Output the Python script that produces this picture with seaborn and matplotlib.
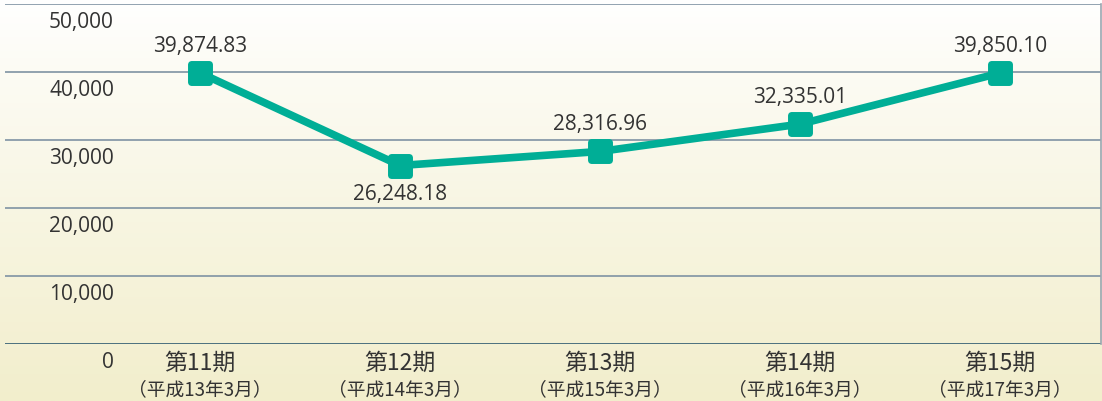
import numpy as np
import pandas as pd
import matplotlib
matplotlib.use("Agg")
import matplotlib.pyplot as plt
import matplotlib.transforms as mtransforms
from matplotlib.markers import MarkerStyle
import seaborn as sns

# data
periods = ["第11期", "第12期", "第13期", "第14期", "第15期"]
dates = ["（平成13年3月）", "（平成14年3月）", "（平成15年3月）", "（平成16年3月）", "（平成17年3月）"]
values = [39874.83, 26248.18, 28316.96, 32335.01, 39850.10]
label_below = [False, True, False, False, False]
yticks = [0, 10000, 20000, 30000, 40000, 50000]

sns.set_theme(style="white")
plt.rcParams['font.family'] = ['Noto Sans CJK JP', 'DejaVu Sans']
num_font = ['Open Sans', 'DejaVu Sans']

line_color = "#00ae96"
text_color = "#333333"

fig = plt.figure(figsize=(11.02, 4.02), dpi=100)

# background gradient over the whole figure
bg = fig.add_axes([0, 0, 1, 1], zorder=0)
grad = np.linspace(0, 1, 256).reshape(-1, 1)
top = np.array([1.0, 1.0, 1.0])
bot = np.array([0xf2, 0xee, 0xcc]) / 255
img = top + (bot - top) * grad[..., None] ** 0.9
bg.imshow(img, aspect="auto", extent=[0, 1, 0, 1], origin="upper")
bg.set_axis_off()

ax = fig.add_axes([5 / 1102, (402 - 345) / 402, 1096 / 1102, 340 / 402], zorder=1)
ax.patch.set_alpha(0)

df = pd.DataFrame({"pos": np.arange(len(values)), "value": values})

for t in yticks:
    color = "#2f5a70" if t == 0 else "#7f93a3"
    ax.axhline(t, color=color, lw=1.2, zorder=1)

sns.lineplot(data=df, x="pos", y="value", ax=ax, color=line_color, lw=5.5,
             marker=MarkerStyle("s", joinstyle="round"), markersize=13,
             markeredgewidth=5, markeredgecolor=line_color,
             markerfacecolor=line_color, zorder=3)
for l in ax.lines[len(yticks):]:
    l.set_solid_joinstyle("round")
    l.set_solid_capstyle("round")

ax.set_xlim(-0.975, 4.505)
ax.set_ylim(0, 50000)

# data labels
for i, v in enumerate(values):
    dy = -20 if label_below[i] else 20
    ax.annotate(f"{v:,.2f}", (i, v), xytext=(0, dy), textcoords="offset points",
                ha="center", va="center", fontsize=15, color=text_color,
                family=num_font)

# y tick labels sit just under their gridlines
ax.set_yticks(yticks)
ax.set_yticklabels([f"{t:,}" for t in yticks], fontsize=15, color=text_color,
                   family=num_font)
ax.tick_params(axis="y", length=0, pad=0)
offset = mtransforms.ScaledTranslation(0, -15 / 100, fig.dpi_scale_trans)
for lab in ax.get_yticklabels():
    lab.set_transform(lab.get_transform() + offset)
    lab.set_horizontalalignment("right")
    lab.set_position((109 / 1096, lab.get_position()[1]))

ax.set_xticks([])
ax.set_xlabel("")
ax.set_ylabel("")

# category labels
for i, (p, d) in enumerate(zip(periods, dates)):
    ax.annotate(p, (i, 0), xytext=(0, -13), textcoords="offset points",
                ha="center", va="center", fontsize=16.5, color=text_color)
    ax.annotate(d, (i, 0), xytext=(0, -32), textcoords="offset points",
                ha="center", va="center", fontsize=13.5, color=text_color,
                annotation_clip=False)

for s in ["top", "left", "bottom"]:
    ax.spines[s].set_visible(False)
ax.spines["right"].set_color("#9aa6b0")
ax.spines["right"].set_linewidth(1.2)

fig.savefig("out.png", dpi=100)
